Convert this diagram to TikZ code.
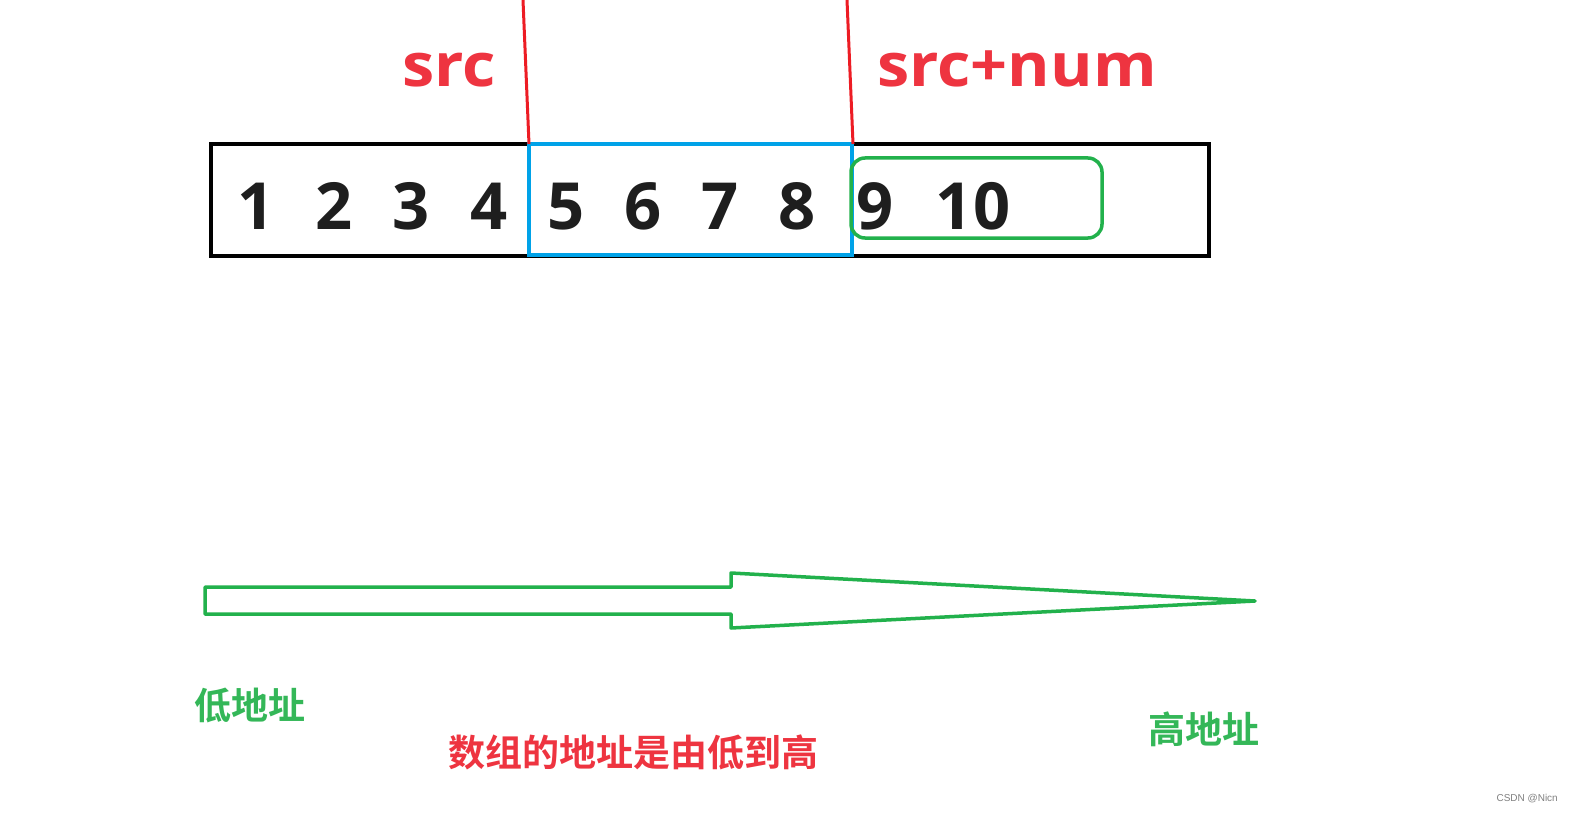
\documentclass[tikz,border=0pt]{standalone}
\usepackage{fontspec}
\setmainfont{Noto Sans CJK SC}[BoldFont={* Bold}]
\newfontfamily\cjk{Noto Sans CJK SC Bold}
\newfontfamily\os{Open Sans}
\newfontfamily\osw{Open Sans}[FakeStretch=1.08]
\newfontfamily\plainsans{Liberation Sans}
\definecolor{lred}{HTML}{ED1C24}
\definecolor{tred}{HTML}{EE3440}
\definecolor{lblue}{HTML}{00A2E8}
\definecolor{lgreen}{HTML}{22B14C}
\definecolor{tgreen}{HTML}{34B758}
\definecolor{dig}{HTML}{1E1E1E}
\tikzset{
  digit/.style={font=\os\bfseries\fontsize{65}{65}\selectfont, text=dig, inner sep=0pt, anchor=base},
  redlabel/.style={font=\osw\bfseries\fontsize{60}{60}\selectfont, text=tred, inner sep=0pt, anchor=base},
  cjkgreen/.style={font=\cjk\fontsize{37}{37}\selectfont, text=tgreen, inner sep=0pt, anchor=base west},
  cjkred/.style={font=\cjk\fontsize{37}{37}\selectfont, text=tred, inner sep=0pt, anchor=base west},
  redline/.style={draw=lred, line width=3pt},
}
\begin{document}
\begin{tikzpicture}[x=1pt,y=-1pt]
\useasboundingbox[fill=white] (0,0) rectangle (1573,813);
% array box
\draw[black, line width=4pt] (211,144) rectangle (1209,256);
\draw[lblue, line width=3.5pt] (529,144) rectangle (852,255);
\draw[lgreen, line width=3.5pt, rounded corners=14pt] (851,158) rectangle (1102,238);
% red markers
\coordinate (t1) at (523,0);
\coordinate (b1) at (529,144);
\coordinate (t2) at (847,0);
\coordinate (b2) at (853,144);
\draw[redline] (t1) -- (b1);
\draw[redline] (t2) -- (b2);
% digits
\foreach \n/\x in {1/256,2/334,3/411,4/489,5/566,6/643,7/720,8/797,9/875,10/973}
  \node[digit] (d\n) at (\x,229) {\n};
% labels
\node[redlabel] (src) at (449,87) {src};
\node[redlabel] (srcnum) at (1017,87) {src+num};
% big arrow
\draw[lgreen, line width=3.5pt, line join=round]
  (205,587) -- (731,587) -- (731,573) -- (1255,601) -- (731,628) -- (731,614) -- (205,614) -- cycle;
% chinese labels
\node[cjkgreen] (low) at (194,719) {低地址};
\node[cjkgreen] (high) at (1148,743) {高地址};
\node[cjkred] (note) at (448,766) {数组的地址是由低到高};
\node[font=\plainsans\fontsize{10}{10}\selectfont, text=gray, anchor=base east, inner sep=0pt] (wm) at (1558,801) {CSDN @Nicn};
\end{tikzpicture}
\end{document}
